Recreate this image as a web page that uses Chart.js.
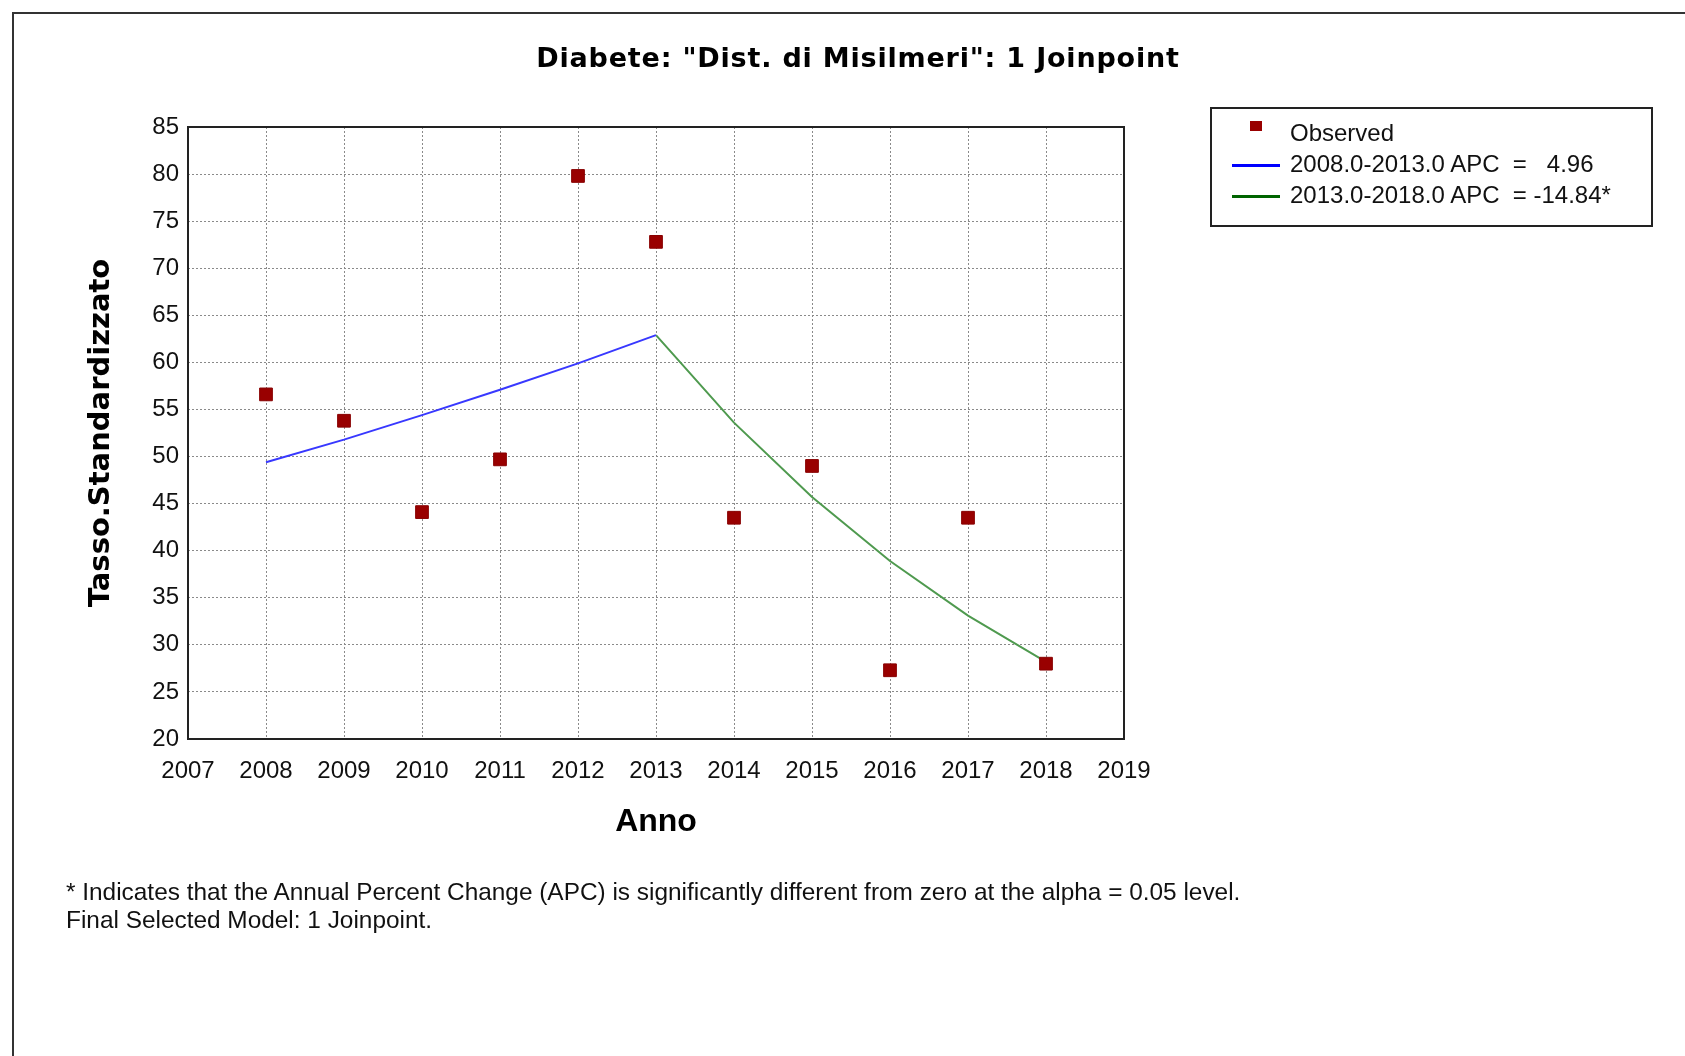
<!DOCTYPE html>
<html>
<head>
<meta charset="utf-8">
<script src="https://cdn.jsdelivr.net/npm/chart.js@4/dist/chart.umd.min.js"></script>
<style>
    body { margin: 0; background: #fff; overflow: hidden; }
    #wrap { position: relative; width: 1685px; height: 1056px; }
    #frame { position: absolute; left: 12px; top: 12px; width: 1700px; height: 1100px;
             border-left: 2px solid #333; border-top: 2px solid #333; }
    #chart { position: absolute; left: 0; top: 0; }
    #title { position: absolute; left: 0; width: 1716px; top: 42px; line-height: 36px;
             text-align: center; font: bold 27px 'DejaVu Sans', sans-serif; letter-spacing: 0.8px; color: #000; }
    #legend { position: absolute; left: 1210px; top: 107px; width: 439px; height: 116px;
              border: 2px solid #222; }
    .leg-row { position: absolute; left: 0; height: 30px; width: 100%; }
    .leg-text { position: absolute; left: 78px; top: 0; line-height: 30px; white-space: pre;
                font: 24px 'Liberation Sans', Arial, sans-serif; color: #111; }
    .leg-line { position: absolute; left: 20px; width: 48px; height: 3px; top: 14px; }
    .leg-box { position: absolute; left: 38px; top: 2px; width: 12px; height: 10px; }
    #note { position: absolute; left: 66px; top: 878px; line-height: 29.5px; white-space: pre;
            font: 24.4px 'Liberation Sans', Arial, sans-serif; color: #111; }
</style>
</head>
<body>
<div id="wrap">
    <div id="frame"></div>
    <canvas id="chart" width="1685" height="1056"></canvas>
    <div id="title"></div>
    <div id="legend"></div>
    <div id="note"></div>
</div>
<script>
// Chart data
const chartTitle = 'Diabete: "Dist. di Misilmeri": 1 Joinpoint';
const years = [2008, 2009, 2010, 2011, 2012, 2013, 2014, 2015, 2016, 2017, 2018];
const observed = [56.6, 53.8, 44.1, 49.7, 79.8, 72.8, 43.5, 49.0, 27.3, 43.5, 28.0];

const seg1Years = [2008, 2009, 2010, 2011, 2012, 2013];
const seg1Fit = [49.4, 51.8, 54.4, 57.1, 59.9, 62.9];
const seg2Years = [2013, 2014, 2015, 2016, 2017, 2018];
const seg2Fit = [62.9, 53.6, 45.7, 38.9, 33.1, 28.2];

const legendLabels = ['Observed', '2008.0-2013.0 APC  =   4.96', '2013.0-2018.0 APC  = -14.84*'];
const notes = [
    '* Indicates that the Annual Percent Change (APC) is significantly different from zero at the alpha = 0.05 level.',
    'Final Selected Model: 1 Joinpoint.'
];

const xMin = 2007, xMax = 2019;
const yMin = 20, yMax = 85, yStep = 5;
const xTitle = 'Anno';
const yTitle = 'Tasso.Standardizzato';

function toPoints(xs, ys) {
    return xs.map((x, i) => ({ x: x, y: ys[i] }));
}

// frame around the plot area
const plotFrame = {
    id: 'plotFrame',
    afterDraw(chart) {
        const a = chart.chartArea;
        const ctx = chart.ctx;
        ctx.save();
        ctx.strokeStyle = '#222';
        ctx.lineWidth = 2;
        ctx.strokeRect(a.left, a.top, a.right - a.left, a.bottom - a.top);
        ctx.restore();
    }
};

const tickFont = { family: "'Liberation Sans', Arial, sans-serif", size: 24 };

const chart = new Chart(document.getElementById('chart'), {
    type: 'line',
    data: {
        datasets: [
            {
                label: legendLabels[0],
                data: toPoints(years, observed),
                showLine: false,
                pointStyle: 'rect',
                pointRadius: 9,
                pointBackgroundColor: '#990000',
                pointBorderColor: '#880000',
                pointBorderWidth: 1
            },
            {
                label: legendLabels[1],
                data: toPoints(seg1Years, seg1Fit),
                borderColor: '#3838ff',
                borderWidth: 2,
                pointRadius: 0,
                tension: 0
            },
            {
                label: legendLabels[2],
                data: toPoints(seg2Years, seg2Fit),
                borderColor: '#4f9a4f',
                borderWidth: 2,
                pointRadius: 0,
                tension: 0
            }
        ]
    },
    options: {
        responsive: false,
        animation: false,
        devicePixelRatio: 1,
        layout: { padding: { left: 60, top: 127, right: 561, bottom: 217 } },
        plugins: {
            legend: { display: false },
            tooltip: { enabled: false },
            title: { display: false }
        },
        scales: {
            x: {
                type: 'linear',
                min: xMin,
                max: xMax,
                afterFit: function(scale) { scale.height = 100; },
                ticks: {
                    stepSize: 1,
                    padding: 18,
                    color: '#111',
                    font: tickFont,
                    maxRotation: 0,
                    callback: function(v) { return String(v); }
                },
                grid: { color: '#8a8a8a', lineWidth: 1, drawTicks: false },
                border: { display: false, dash: [2, 2] },
                title: {
                    display: true,
                    text: xTitle,
                    color: '#000',
                    font: { family: "'Liberation Sans', Arial, sans-serif", size: 32, weight: 'bold' },
                    padding: { top: 0, bottom: -2 }
                }
            },
            y: {
                min: yMin,
                max: yMax,
                afterFit: function(scale) { scale.width = 128; },
                ticks: {
                    stepSize: yStep,
                    padding: 9,
                    color: '#111',
                    font: tickFont
                },
                grid: { color: '#8a8a8a', lineWidth: 1, drawTicks: false },
                border: { display: false, dash: [2, 2] },
                title: {
                    display: true,
                    text: yTitle,
                    color: '#000',
                    font: { family: "'DejaVu Sans', sans-serif", size: 29, weight: 'bold' },
                    padding: { top: 24, bottom: 0 }
                }
            }
        }
    },
    plugins: [plotFrame]
});

// title, legend and footnote as page text
document.getElementById('title').textContent = chartTitle;

const legendEl = document.getElementById('legend');
const rowTops = [10, 41, 72];
chart.data.datasets.forEach(function(ds, i) {
    const row = document.createElement('div');
    row.className = 'leg-row';
    row.style.top = rowTops[i] + 'px';
    const mark = document.createElement('div');
    if (ds.showLine === false) {
        mark.className = 'leg-box';
        mark.style.background = ds.pointBackgroundColor;
    } else {
        mark.className = 'leg-line';
        mark.style.background = i === 1 ? '#0000ff' : '#006400';
    }
    const text = document.createElement('div');
    text.className = 'leg-text';
    text.textContent = ds.label;
    row.appendChild(mark);
    row.appendChild(text);
    legendEl.appendChild(row);
});

document.getElementById('note').textContent = notes.join('\n');
</script>
</body>
</html>
